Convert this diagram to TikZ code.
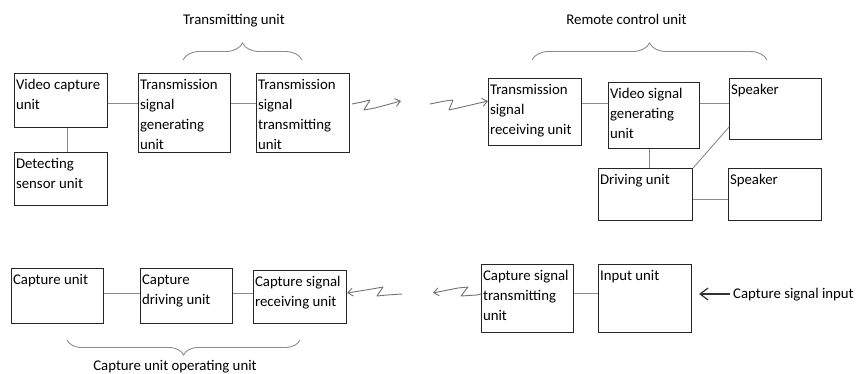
\documentclass[tikz,border=0pt]{standalone}
\usepackage{fontspec}
\setmainfont{Carlito}
\usetikzlibrary{arrows.meta,decorations.pathreplacing}

% top-aligned, left-aligned box contents: width, height, lines
\newcommand{\boxtext}[3]{\parbox[t][#2pt][t]{\dimexpr#1pt-3pt\relax}{\raggedright\rule{0pt}{16pt}#3}}

\begin{document}
\begin{tikzpicture}[x=1pt,y=-1pt,
  font=\fontsize{14.8}{20}\selectfont,
  unitbox/.style={draw=black!85, line width=1.1pt, inner xsep=1.5pt, inner ysep=0pt,
                  anchor=north west, text=black},
  link/.style={draw=black!45, line width=0.9pt},
  grpbrace/.style={draw=black!45, line width=0.9pt, decorate,
                   decoration={brace, amplitude=#1}},
  zz/.style={draw=black!55, line width=0.9pt, line join=round,
             -{Straight Barb[length=5pt,width=8pt]}},
  caption/.style={inner sep=0pt, text=black}]

\useasboundingbox (0,0) rectangle (858,374);
\clip (0,0) rectangle (858,374);

% ---- transmitting side ----
\node[unitbox] (vc)  at (14,73)   {\boxtext{93}{54}{Video capture\\unit}};
\node[unitbox] (ds)  at (14,152)  {\boxtext{93}{53}{Detecting\\sensor unit}};
\node[unitbox] (tsg) at (138,73)  {\boxtext{92}{79}{Transmission\\signal\\generating\\unit}};
\node[unitbox] (tst) at (256,73)  {\boxtext{93}{79}{Transmission\\signal\\transmitting\\unit}};

% ---- remote control side ----
\node[unitbox] (tsr) at (488,78)  {\boxtext{93}{67}{Transmission\\signal\\receiving unit}};
\node[unitbox] (vsg) at (608,82)  {\boxtext{91}{66}{Video signal\\generating\\unit}};
\node[unitbox] (sp1) at (729,78)  {\boxtext{92}{61}{Speaker}};
\node[unitbox] (drv) at (598,168) {\boxtext{94}{52}{Driving unit}};
\node[unitbox] (sp2) at (728,168) {\boxtext{93}{52}{Speaker}};

% ---- capture path ----
\node[unitbox] (cu)  at (11,268)  {\boxtext{92}{55}{Capture unit}};
\node[unitbox] (cdu) at (140,268) {\boxtext{92}{55}{Capture\\driving unit}};
\node[unitbox] (csr) at (253,270) {\boxtext{93}{53}{Capture signal\\receiving unit}};
\node[unitbox] (cst) at (481,264) {\boxtext{92}{68}{Capture signal\\transmitting\\unit}};
\node[unitbox] (inp) at (598,264) {\boxtext{93}{68}{Input unit}};

% ---- group captions ----
\node[caption, anchor=base] (tu)  at (234,25)    {Transmitting unit};
\node[caption, anchor=base] (rcu) at (626.5,25)  {Remote control unit};
\node[caption, anchor=base] (cuo) at (175,370)   {Capture unit operating unit};
\node[caption, anchor=base west] (csi) at (733,298.5) {Capture signal input};

% ---- braces ----
\draw[grpbrace=17] (183,60) -- (302,60);
\draw[grpbrace=17] (532,60) -- (767,60);
\draw[grpbrace=15] (300,340) -- (67,340);

% ---- wired links ----
\draw[link] (vc.east |- 0,103)  -- (tsg.west |- 0,103);
\draw[link] (tsg.east |- 0,103) -- (tst.west |- 0,103);
\draw[link] (vc.south -| 67,0)  -- (ds.north -| 67,0);
\draw[link] (tsr.east |- 0,103) -- (vsg.west |- 0,103);
\draw[link] (vsg.east |- 0,103) -- (sp1.west |- 0,103);
\draw[link] (vsg.south -| 649,0) -- (drv.north -| 649,0);
\draw[link] (drv.north east)    -- (sp1.west |- 0,127);
\draw[link] (drv.east |- 0,199) -- (sp2.west |- 0,199);
\draw[link] (cu.east |- 0,293)  -- (cdu.west |- 0,293);
\draw[link] (cdu.east |- 0,293) -- (csr.west |- 0,293);
\draw[link] (cst.east |- 0,293) -- (inp.west |- 0,293);

% ---- wireless links (zigzag arrows) ----
\coordinate (z1s) at (352,104);
\coordinate (z1e) at (401,101);
\coordinate (z2s) at (430,104);
\coordinate (z3s) at (402,294);
\coordinate (z4e) at (433,293);

\draw[zz] (z1s) -- (362,102) -- (370,100) -- (364,110) -- (375,108) -- (z1e);
\draw[zz] (z2s) -- (445,101) -- (453,100) -- (449,110) -- (458,108) -- (tsr.west |- 0,101);
\draw[zz] (z3s) -- (387,295) -- (377,296) -- (383,287) -- (372,289) -- (csr.east |- 0,293);
\draw[zz] (cst.west |- 0,294) -- (477,295) -- (461,296) -- (468,287) -- (458,288) -- (z4e);

% ---- external input ----
\draw[line width=1.2pt, black!80, -{Straight Barb[length=8pt,width=12pt]},
      shorten <=3pt, shorten >=7pt] (csi.west |- 0,294) -- (inp.east |- 0,294);

\end{tikzpicture}
\end{document}
